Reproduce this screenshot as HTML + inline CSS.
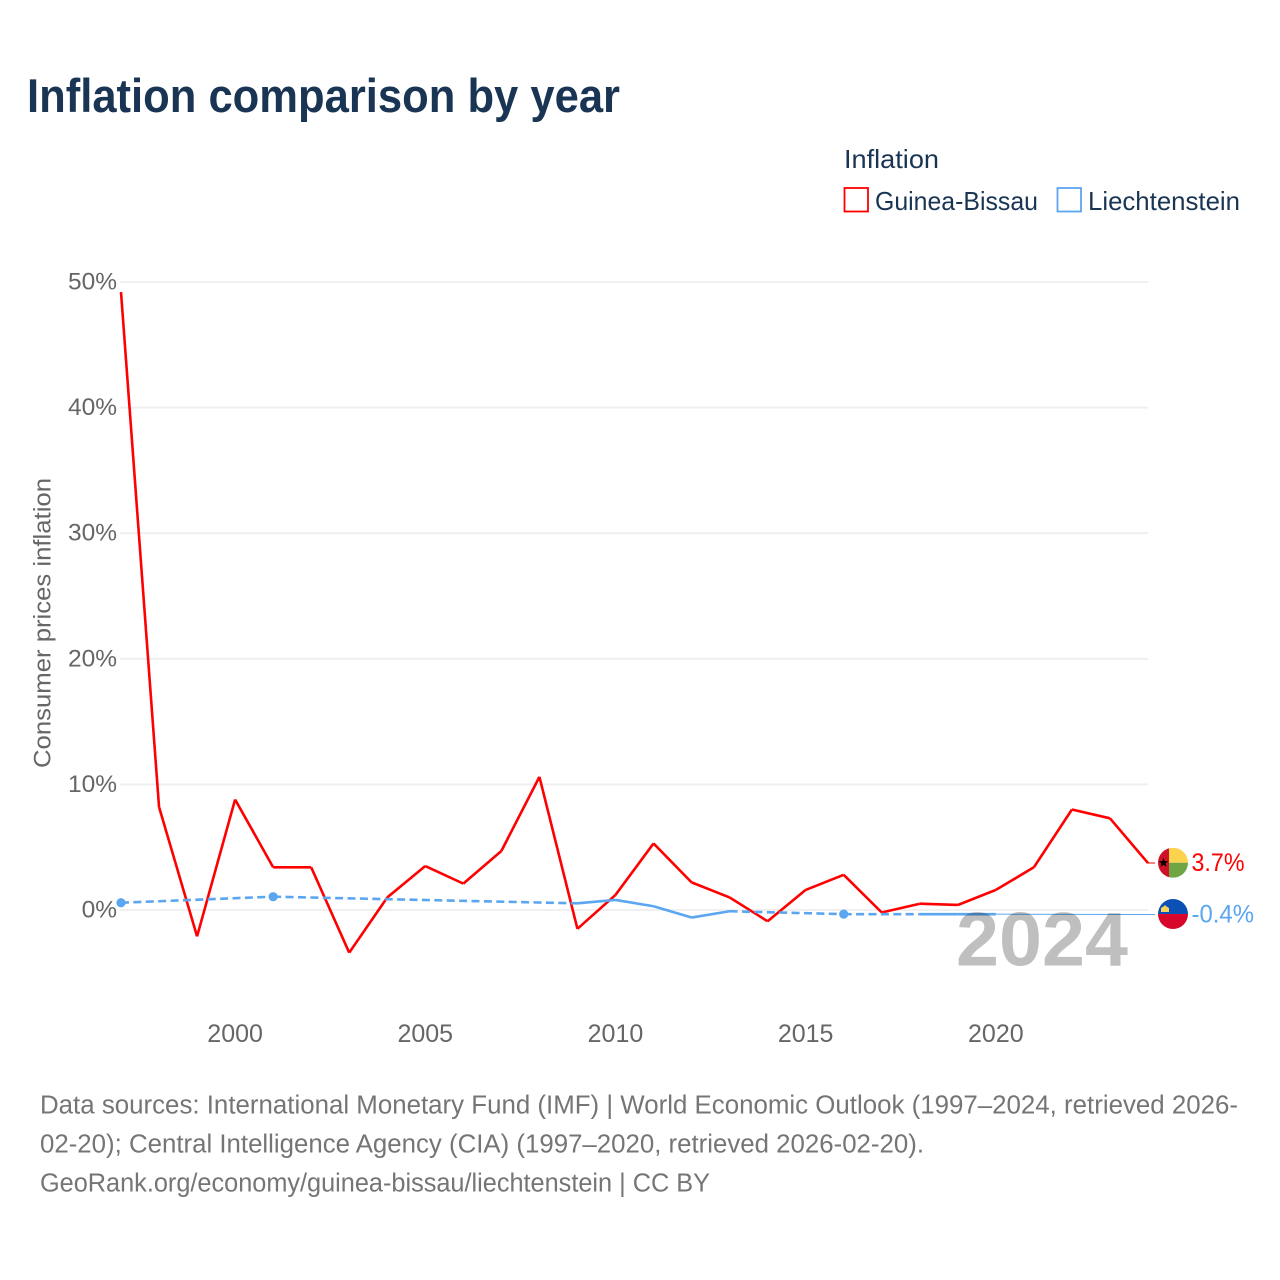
<!DOCTYPE html>
<html lang="en">
<head>
<meta charset="utf-8">
<title>Inflation comparison by year</title>
<style>
html,body{margin:0;padding:0;background:#fff;}
#chart{display:block;width:1280px;height:1280px;}
text{font-family:"Liberation Sans",sans-serif;}
</style>
</head>
<body>
<svg id="chart" xmlns="http://www.w3.org/2000/svg" width="1280" height="1280" viewBox="0 0 1280 1280">
  <rect width="1280" height="1280" fill="#ffffff"/>
  <text x="27" y="112" font-size="47" font-weight="700" fill="#1a3554" textLength="593" lengthAdjust="spacingAndGlyphs">Inflation comparison by year</text>

  <g>
    <text x="844" y="168" font-size="26" fill="#1a3554" textLength="95" lengthAdjust="spacingAndGlyphs">Inflation</text>
    <rect x="844.5" y="188" width="23.5" height="23.5" fill="#ffffff" stroke="#ff0000" stroke-width="1.8"/>
    <text x="875" y="210" font-size="26" fill="#1a3554" textLength="163" lengthAdjust="spacingAndGlyphs">Guinea-Bissau</text>
    <rect x="1057.5" y="188" width="23.5" height="23.5" fill="#ffffff" stroke="#5ba6f0" stroke-width="1.8"/>
    <text x="1088" y="210" font-size="26" fill="#1a3554" textLength="152" lengthAdjust="spacingAndGlyphs">Liechtenstein</text>
  </g>

  <g id="grid"></g>
  <g id="y-ticks"></g>
  <g id="x-ticks"></g>
  <text transform="translate(50.5 768) rotate(-90)" font-size="24.5" fill="#666666" textLength="290" lengthAdjust="spacingAndGlyphs">Consumer prices inflation</text>

  <g id="series"></g>

  <text x="956" y="965.5" font-size="76" font-weight="700" fill="#000000" fill-opacity="0.25" textLength="172" lengthAdjust="spacingAndGlyphs">2024</text>

  <g id="end-labels"></g>

  <g>
    <text x="40" y="1113.5" font-size="25.5" fill="#757575" textLength="1198" lengthAdjust="spacingAndGlyphs">Data sources: International Monetary Fund (IMF) | World Economic Outlook (1997–2024, retrieved 2026-</text>
    <text x="40" y="1152.5" font-size="25.5" fill="#757575" textLength="884" lengthAdjust="spacingAndGlyphs">02-20); Central Intelligence Agency (CIA) (1997–2020, retrieved 2026-02-20).</text>
    <text x="40" y="1191.5" font-size="25.5" fill="#757575" textLength="670" lengthAdjust="spacingAndGlyphs">GeoRank.org/economy/guinea-bissau/liechtenstein | CC BY</text>
  </g>
</svg>
<script>
const years = [1997,1998,1999,2000,2001,2002,2003,2004,2005,2006,2007,2008,2009,2010,2011,2012,2013,2014,2015,2016,2017,2018,2019,2020,2021,2022,2023,2024];
const guineaBissau = [49.2,8.2,-2.1,8.8,3.4,3.4,-3.4,1.0,3.5,2.1,4.7,10.6,-1.5,1.2,5.3,2.2,1.0,-0.9,1.6,2.8,-0.2,0.5,0.4,1.6,3.4,8.0,7.3,3.74];
const liechtenstein = [0.58,null,null,null,1.06,null,null,null,null,null,null,null,0.53,0.8,0.3,-0.6,-0.1,null,null,-0.33,null,-0.33,-0.33,-0.33,null,null,null,-0.36];
const yTickValues = [0,10,20,30,40,50];
const xTickValues = [2000,2005,2010,2015,2020];

const NS = 'http://www.w3.org/2000/svg';
function xScale(year){ return 121 + (year - 1997) * (1148 - 121) / (2024 - 1997); }
function yScale(v){ return 910 - v * (910 - 282) / 50; }
function make(tag, attrs, parent){
  const el = document.createElementNS(NS, tag);
  for (const k in attrs) el.setAttribute(k, attrs[k]);
  parent.appendChild(el);
  return el;
}
function pathFrom(pairs){
  return pairs.map((p, i) => (i ? 'L' : 'M') + xScale(p[0]).toFixed(2) + ' ' + yScale(p[1]).toFixed(2)).join(' ');
}

const gridG = document.getElementById('grid');
const yG = document.getElementById('y-ticks');
const xG = document.getElementById('x-ticks');
const seriesG = document.getElementById('series');
const endG = document.getElementById('end-labels');

yTickValues.forEach(function(v){
  const line = make('line', {x1:120, x2:1148, y1:yScale(v), y2:yScale(v), stroke:'#eeeeee', 'stroke-width':1.8}, gridG);
  
  
  const label = make('text', {x:117, y:yScale(v) + 7.5, 'text-anchor':'end', 'font-size':24.5, fill:'#666666'}, yG);
  
  
  label.textContent = v + '%';
});

xTickValues.forEach(function(year){
  const label = make('text', {x:xScale(year), y:1042, 'text-anchor':'middle', 'font-size':25, fill:'#666666'}, xG);
  
  
  label.textContent = year;
});

function drawSeries(values, color, name){
  const known = [];
  values.forEach(function(v, i){ if (v !== null) known.push([years[i], v]); });
  for (let i = 0; i < known.length - 1; i++) {
    const a = known[i], b = known[i + 1];
    const isLast = i === known.length - 2;
    const gap = b[0] - a[0] > 1;
    const attrs = {d:pathFrom([a, b]), fill:'none', stroke:color, 'stroke-width':2.6, 'stroke-linejoin':'round'};
    if (gap && !isLast) attrs['stroke-dasharray'] = '8 4.4';
    if (isLast && gap) attrs['stroke-width'] = 1;
    const seg = make('path', attrs, seriesG);
    
    
  }
  values.forEach(function(v, i){
    if (v === null) return;
    const isolated = (i === 0 || values[i - 1] === null) && (i === values.length - 1 || values[i + 1] === null);
    if (!isolated || i === values.length - 1) return;
    const dot = make('circle', {cx:xScale(years[i]), cy:yScale(v), r:4.6, fill:color}, seriesG);
    
    
  });
  return known[known.length - 1];
}

const lastGuinea = drawSeries(guineaBissau, '#ff0000', 'guinea-bissau');
const lastLiech = drawSeries(liechtenstein, '#5ba6f0', 'liechtenstein');

function endLabel(last, color, name, textWidth){
  const y = yScale(last[1]);
  const conn = make('line', {x1:1148, x2:1155, y1:y, y2:y, stroke:color, 'stroke-width':1}, endG);
  
  
  const label = make('text', {x:1191.5, y:y + 8, 'font-size':25, fill:color, textLength:textWidth, lengthAdjust:'spacingAndGlyphs'}, endG);
  
  
  label.textContent = last[1].toFixed(1) + '%';
  return y;
}

const gy = endLabel(lastGuinea, '#ff0000', 'guinea-bissau', 53) - 0.3;
const ly = endLabel(lastLiech, '#5ba6f0', 'liechtenstein', 62.5) - 0.5;

const flagDefs = make('defs', {}, endG);
const clipA = make('clipPath', {id:'clip-gw'}, flagDefs);
make('circle', {cx:1173, cy:gy, r:15}, clipA);
const clipB = make('clipPath', {id:'clip-li'}, flagDefs);
make('circle', {cx:1173, cy:ly, r:15}, clipB);

const gwFlag = make('g', {'clip-path':'url(#clip-gw)'}, endG);


make('rect', {x:1158, y:gy - 15, width:11, height:30, fill:'#ce1126'}, gwFlag);
make('rect', {x:1169, y:gy - 15, width:19, height:15, fill:'#fcd34d'}, gwFlag);
make('rect', {x:1169, y:gy, width:19, height:15, fill:'#6fa544'}, gwFlag);
const star = make('polygon', {points:[[0,-5],[1.3,-1.6],[4.8,-1.5],[2,0.6],[3,4],[0,2],[-3,4],[-2,0.6],[-4.8,-1.5],[-1.3,-1.6]].map(p => (1163.5 + p[0]) + ',' + (gy + p[1])).join(' '), fill:'#000000'}, gwFlag);



const liFlag = make('g', {'clip-path':'url(#clip-li)'}, endG);


make('rect', {x:1158, y:ly - 15, width:30, height:15, fill:'#0b50b4'}, liFlag);
make('rect', {x:1158, y:ly, width:30, height:15, fill:'#d9062c'}, liFlag);
const crown = make('polygon', {points:[[-4,3.5],[-4,-0.5],[-2.5,-1.5],[-1.5,-2],[0,-3.5],[1.5,-2],[2.5,-1.5],[4,-0.5],[4,3.5]].map(p => (1165 + p[0]) + ',' + (ly - 5.5 + p[1])).join(' '), fill:'#f6d25a'}, liFlag);


</script>
</body>
</html>
